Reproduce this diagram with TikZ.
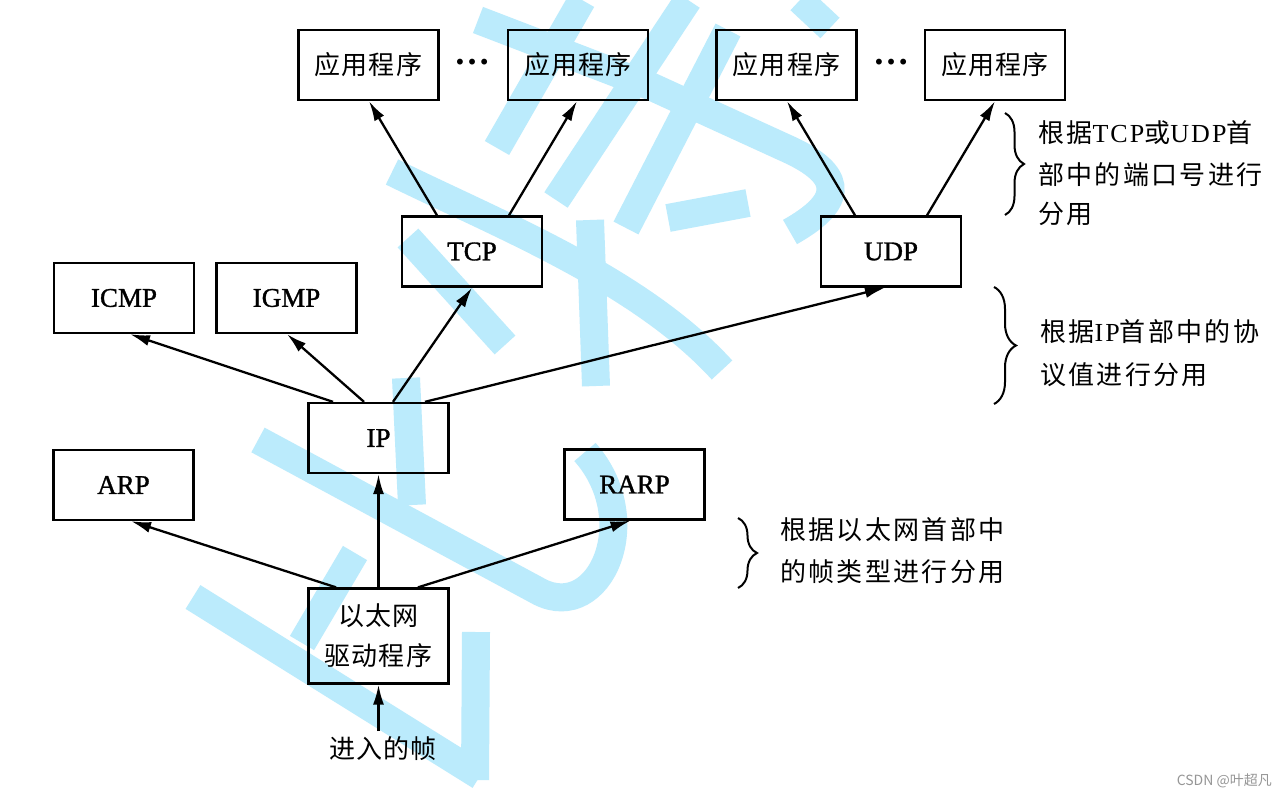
\documentclass[tikz,border=0pt]{standalone}
\usepackage{fontspec}
\setmainfont{Liberation Serif}
\newfontfamily\boxlat[FakeBold=1.2]{Liberation Serif}
\newfontfamily\cjk[LetterSpace=4]{Noto Sans CJK SC}
\newfontfamily\cjkann[LetterSpace=9]{Noto Sans CJK SC}
\newfontfamily\latann[LetterSpace=8]{Liberation Serif}
\newfontfamily\wmfont{Noto Sans CJK SC}
\usetikzlibrary{arrows.meta,decorations.pathreplacing}
\definecolor{wm}{RGB}{187,235,252}
\definecolor{csdn}{RGB}{150,150,150}
\begin{document}
\begin{tikzpicture}[x=1pt,y=-1pt,
  box/.style={draw, line width=2.3pt, inner sep=0pt, minimum height=70pt, minimum width=140pt, font=\boxlat\fontsize{27}{30}\selectfont},
  cbox/.style={box, font=\cjk\fontsize{26}{40}\selectfont, align=center},
  arr/.style={-{Latex[length=20pt,width=11pt]}, line width=2.3pt},
  brc/.style={decorate, decoration={brace, amplitude=19pt, aspect=0.5}, line width=2pt},
  ann/.style={anchor=west, inner sep=0pt, font=\cjkann\fontsize{26}{30}\selectfont},
  dotsty/.style={inner sep=0pt, font=\bfseries\fontsize{36}{36}\selectfont},
  wmk/.style={draw=wm, line width=28pt}]
\useasboundingbox (0,0) rectangle (1287,799);
\fill[white] (0,0) rectangle (1287,799);

% watermark strokes
\begin{scope}[wmk]
\draw (582,0) -- (497,148);
\draw (478,20) -- (650,86) -- (790,150) .. controls (850,178) and (838,205) .. (790,232);
\draw (556,200) -- (688,0);
\draw (728,30) -- (626,228);
\draw (668,218) -- (748,203);
\draw (800,0) -- (830,28);
\draw (392,172) .. controls (500,225) and (640,280) .. (722,370);
\draw (408,238) -- (505,345);
\draw (590,220) -- (596,386);
\draw (406,378) -- (412,505);
\draw (258,440) -- (540,592) .. controls (600,622) and (645,520) .. (585,452);
\draw (355,553) -- (302,643);
\draw (193,597) -- (480,776);
\draw (476,632) -- (475,780);
\end{scope}

% boxes
\node[cbox] (app1) at (368.5,65) {应用程序};
\node[cbox] (app2) at (578,65) {应用程序};
\node[cbox] (app3) at (786.5,65) {应用程序};
\node[cbox] (app4) at (995,65) {应用程序};
\node[dotsty] (dots1) at (472,62) {…};
\node[dotsty] (dots2) at (891,62) {…};
\node[box] (tcp) at (472,251.5) {TCP};
\node[box] (udp) at (891,251.5) {UDP};
\node[box] (icmp) at (124,298) {ICMP};
\node[box] (igmp) at (286.5,298) {IGMP};
\node[box] (ip) at (378.5,438) {IP};
\node[box] (arp) at (123.5,485) {ARP};
\node[box] (rarp) at (634.5,484.5) {RARP};
\node[cbox, minimum height=95pt] (eth) at (378.5,636) {以太网\\驱动程序};
\node[inner sep=0pt, font=\cjk\fontsize{26}{30}\selectfont] (inframe) at (383,749) {进入的帧};
\coordinate (inbot) at (378.5,731);

% arrows
\draw[arr] (inbot) -- (eth.south);
\draw[arr] ([xshift=-42.5pt]eth.north) -- ([xshift=7.5pt]arp.south);
\draw[arr] (eth.north) -- (ip.south);
\draw[arr] ([xshift=39.5pt]eth.north) -- ([xshift=-4pt]rarp.south);
\draw[arr] ([xshift=-45.5pt]ip.north) -- ([xshift=6pt]icmp.south);
\draw[arr] ([xshift=-14.5pt]ip.north) -- ([xshift=0.5pt]igmp.south);
\draw[arr] ([xshift=14.5pt]ip.north) -- (tcp.south);
\draw[arr] ([xshift=46.5pt]ip.north) -- ([xshift=-6pt]udp.south);
\draw[arr] ([xshift=-35pt]tcp.north) -- ([xshift=0.5pt]app1.south);
\draw[arr] ([xshift=37pt]tcp.north) -- ([xshift=-1pt]app2.south);
\draw[arr] ([xshift=-36pt]udp.north) -- ([xshift=0.5pt]app3.south);
\draw[arr] ([xshift=36pt]udp.north) -- (app4.south);

% braces and annotations
\coordinate (b1a) at (1005,113);
\coordinate (b1b) at (1005,215);
\draw[brc] (b1a) -- (b1b);
\node[ann] (t1a) at (1038,133) {根据{\latann TCP}或{\latann UDP}首};
\node[ann] (t1b) at (1038,175) {部中的端口号进行};
\node[ann] (t1c) at (1038,214) {分用};

\coordinate (b2a) at (994,287);
\coordinate (b2b) at (994,404);
\draw[brc, decoration={brace, amplitude=22pt}] (b2a) -- (b2b);
\node[ann] (t2a) at (1040,332) {根据{\latann IP}首部中的协};
\node[ann] (t2b) at (1040,375) {议值进行分用};

\coordinate (b3a) at (738,518);
\coordinate (b3b) at (738,588);
\draw[brc] (b3a) -- (b3b);
\node[ann] (t3a) at (780,530) {根据以太网首部中};
\node[ann] (t3b) at (780,572) {的帧类型进行分用};

\node[anchor=east, inner sep=0pt, text=csdn, font=\wmfont\fontsize{14}{16}\selectfont] (csdn) at (1272,781) {CSDN @叶超凡};
\end{tikzpicture}
\end{document}
